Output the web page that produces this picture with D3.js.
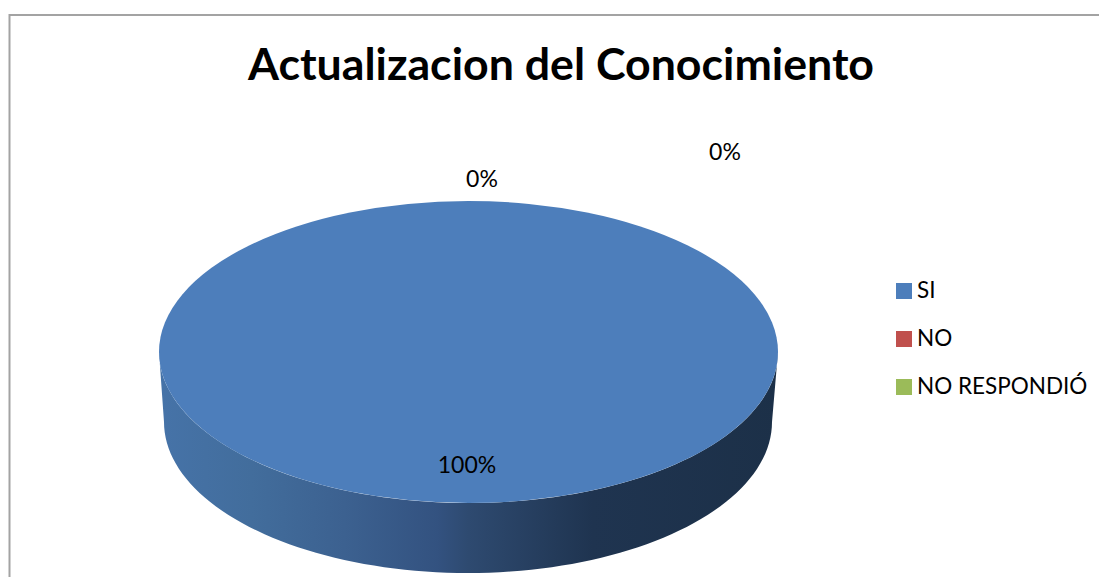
<!DOCTYPE html>
<html>
<head>
<meta charset="utf-8">
<script src="https://cdn.jsdelivr.net/npm/d3@7"></script>
<style>
  html, body { margin: 0; padding: 0; background: #fff; }
  svg { display: block; }
  text { font-family: Lato, "Open Sans", sans-serif; fill: #000; }
</style>
</head>
<body>
<svg id="chart"></svg>
<script>
const title = "Actualizacion del Conocimiento";
const categories = ["SI", "NO", "NO RESPONDIÓ"];
const values = [100, 0, 0];
const colors = ["#4d7ebb", "#c0504d", "#9bbb59"];

const width = 1099, height = 577;

// pie geometry: top face ellipse and the slightly smaller bottom one
const top_face = { cx: 468.5, cy: 352, rx: 309.5, ry: 151 };
const bottom_face = { cx: 468, cy: 422, rx: 304, ry: 151 };

// label spots, placed by hand in the original chart
const label_pos = [[467, 473], [482, 187], [725, 160]];

const svg = d3.select("#chart")
    .attr("width", width)
    .attr("height", height);

const defs = svg.append("defs");
const side_grad = defs.append("linearGradient")
    .attr("id", "side")
    .attr("gradientUnits", "userSpaceOnUse")
    .attr("x1", top_face.cx - top_face.rx)
    .attr("x2", top_face.cx + top_face.rx)
    .attr("y1", 0)
    .attr("y2", 0);
[[0, "#4673a8"], [0.15, "#426d9c"], [0.3, "#3c6190"], [0.45, "#335280"], [0.5, "#2e4a70"], [0.7, "#1f3450"], [1, "#1c3048"]]
    .forEach(s => side_grad.append("stop").attr("offset", s[0]).attr("stop-color", s[1]));

// chart frame, only top and left show in the crop
svg.append("path")
    .attr("d", `M9.5,${height} V15 H${width}`)
    .attr("fill", "none")
    .attr("stroke", "#a3a3a3")
    .attr("stroke-width", 2);

const pie = d3.pie().sort(null).startAngle(0).endAngle(2 * Math.PI);
const slices = pie(values);
const arc = d3.arc().innerRadius(0).outerRadius(1);

// side wall: front half of the top rim, back along the bottom rim
const front = d3.range(0, 181, 2).map(d => d * Math.PI / 180);
const rim = (f, a) => [f.cx + f.rx * Math.cos(a), f.cy + f.ry * Math.sin(a)];
const side_pts = front.map(a => rim(top_face, a))
    .concat(front.slice().reverse().map(a => rim(bottom_face, a)));

svg.append("path")
    .attr("d", d3.line()(side_pts) + "Z")
    .attr("fill", "url(#side)");

svg.append("g")
    .attr("transform", `translate(${top_face.cx},${top_face.cy}) scale(${top_face.rx},${top_face.ry})`)
    .selectAll("path")
    .data(slices)
    .enter()
    .append("path")
    .attr("d", arc)
    .attr("fill", (d, i) => colors[i]);

svg.append("text")
    .attr("x", 561)
    .attr("y", 80)
    .attr("text-anchor", "middle")
    .attr("font-size", 44)
    .attr("font-weight", "bold")
    .attr("textLength", 626)
    .attr("lengthAdjust", "spacingAndGlyphs")
    .text(title);

svg.append("g")
    .selectAll("text")
    .data(values)
    .enter()
    .append("text")
    .attr("x", (d, i) => label_pos[i][0])
    .attr("y", (d, i) => label_pos[i][1])
    .attr("text-anchor", "middle")
    .attr("font-size", 23)
    .text(d => d + "%");

const legend_y = d3.scalePoint().domain(categories).range([291, 387]);

const legend = svg.append("g")
    .selectAll("g")
    .data(categories)
    .enter()
    .append("g")
    .attr("transform", d => `translate(896,${legend_y(d)})`);

legend.append("rect")
    .attr("y", -8)
    .attr("width", 16)
    .attr("height", 16)
    .attr("fill", (d, i) => colors[i]);

legend.append("text")
    .attr("x", 21)
    .attr("y", 7)
    .attr("font-size", 22.5)
    .text(d => d);
</script>
</body>
</html>
